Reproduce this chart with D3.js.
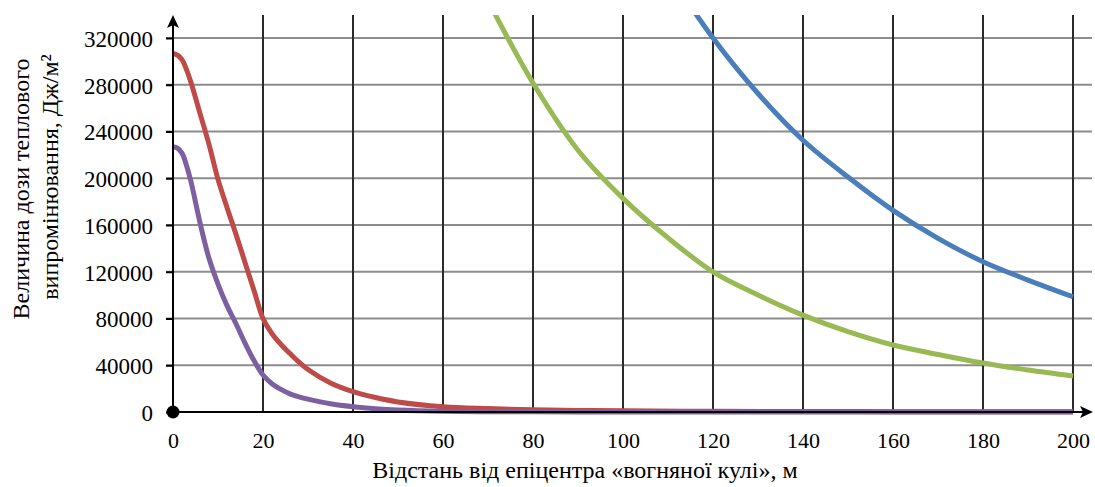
<!DOCTYPE html>
<html><head><meta charset="utf-8">
<script src="https://cdn.jsdelivr.net/npm/d3@7/dist/d3.min.js"></script>
<style>
html,body{margin:0;padding:0;background:#fff;}
svg{display:block;}
</style></head>
<body>
<script>
// ---- data ----
const xTicks = [0,20,40,60,80,100,120,140,160,180,200];
const yTicks = [0,40000,80000,120000,160000,200000,240000,280000,320000];

const xNear = [0,1,2,3,4,6,8,10,12,14,16,18,20,22,24,26,28,30,35,40,45,50,60,70,80,90,100,120,140,160,180,200];
const redValues = [306800,305300,301500,293000,282000,255500,229000,199000,175000,152000,128000,104000,80000,67000,57800,50000,42600,36300,24800,17400,12400,8600,4500,2900,1900,1300,1000,600,400,300,200,150];
const purpleValues = [227000,225800,221500,211000,197000,162000,131500,109500,91000,75500,59000,44000,31700,24200,19300,15500,13000,11000,7000,4500,2800,1700,600,250,120,60,40,20,10,5,0,0];

const xGreen = [70,80,90,100,110,120,130,140,150,160,170,180,190,200];
const greenValues = [352000,281500,224000,182800,149000,119900,100100,82900,68700,57300,49200,41900,35900,30800];

const xBlue = [110,120,130,140,150,160,170,180,190,200];
const blueValues = [376000,320000,272500,232500,201000,172500,148600,128600,112900,98600];

const yTitle1 = "Величина дози теплового";
const yTitle2 = "випромінювання, Дж/м²";
const xTitle = "Відстань від епіцентра «вогняної кулі», м";

// ---- layout ----
const W = 1095, H = 487;
const FONT = '"Liberation Serif","Times New Roman",serif';
const svg = d3.select("body").append("svg").attr("width", W).attr("height", H);
const x = d3.scaleLinear().domain([0,200]).range([173,1073]);
const y = d3.scaleLinear().domain([0,320000]).range([412,38]);
const plotTop = 15, plotRight = 1092;

// horizontal gridlines
svg.append("g").selectAll("line").data(yTicks.filter(d=>d>0)).join("line")
  .attr("x1",166).attr("x2",plotRight).attr("y1",d=>y(d)).attr("y2",d=>y(d))
  .attr("stroke","#8c8c8c").attr("stroke-width",2);
// vertical gridlines
svg.append("g").selectAll("line").data(xTicks.filter(d=>d>0)).join("line")
  .attr("x1",d=>x(d)).attr("x2",d=>x(d)).attr("y1",plotTop).attr("y2",y(0))
  .attr("stroke","#2b2b2b").attr("stroke-width",2);

// y axis labels
const yAxis = d3.axisLeft(y).tickValues(yTicks).tickSize(7).tickPadding(13).tickFormat(d3.format("d"));
const gy = svg.append("g").attr("transform",`translate(${x(0)},0)`).call(yAxis).attr("font-family",FONT).attr("font-size",23);
gy.select(".domain").remove();
gy.selectAll(".tick line").attr("stroke","#000").attr("stroke-width",2);
gy.selectAll(".tick text").attr("fill","#000").attr("dy","0.36em");

// x axis labels
const xAxis = d3.axisBottom(x).tickValues(xTicks).tickSize(0).tickPadding(20);
const gx = svg.append("g").attr("transform",`translate(0,${y(0)})`).call(xAxis).attr("font-family",FONT).attr("font-size",22);
gx.select(".domain").remove();
gx.selectAll(".tick text").attr("fill","#000");

// clip
svg.append("clipPath").attr("id","clip").append("rect")
  .attr("x",x(0)).attr("y",plotTop).attr("width",plotRight-x(0)).attr("height",y(0)-plotTop+5);

const line = d3.line().x(d=>x(d[0])).y(d=>y(d[1])).curve(d3.curveCatmullRom.alpha(0.5));
const series = [
  {xs:xBlue, vs:blueValues, color:"#4a7ebb"},
  {xs:xNear, vs:redValues, color:"#be4b48"},
  {xs:xGreen, vs:greenValues, color:"#98b954"},
  {xs:xNear, vs:purpleValues, color:"#7d60a0"}
];
const gl = svg.append("g").attr("clip-path","url(#clip)");
series.forEach(s=>{
  gl.append("path").datum(s.xs.map((d,i)=>[d,s.vs[i]]))
    .attr("d",line).attr("fill","none").attr("stroke",s.color)
    .attr("stroke-width",5).attr("stroke-linejoin","round").attr("stroke-linecap","butt");
});

// axes lines
svg.append("line").attr("x1",x(0)).attr("x2",x(0)).attr("y1",plotTop+6).attr("y2",y(0))
  .attr("stroke","#000").attr("stroke-width",2);
svg.append("line").attr("x1",x(0)).attr("x2",plotRight-6).attr("y1",y(0)).attr("y2",y(0))
  .attr("stroke","#000").attr("stroke-width",2);
// arrows
const ax0 = x(0), ay0 = y(0);
svg.append("path").attr("d",`M${ax0},${plotTop} L${ax0+6},${plotTop+13} L${ax0},${plotTop+10} L${ax0-6},${plotTop+13} Z`).attr("fill","#000");
svg.append("path").attr("d",`M${plotRight+1},${ay0} L${plotRight-12},${ay0-6} L${plotRight-9},${ay0} L${plotRight-12},${ay0+6} Z`).attr("fill","#000");
// origin dot
svg.append("circle").attr("cx",ax0).attr("cy",ay0).attr("r",6.5).attr("fill","#000");

// titles
svg.append("text").attr("transform","translate(29,189) rotate(-90)").attr("text-anchor","middle")
  .attr("font-size",24).attr("font-family",FONT).text(yTitle1);
svg.append("text").attr("transform","translate(58,177) rotate(-90)").attr("text-anchor","middle")
  .attr("font-size",24).attr("font-family",FONT).text(yTitle2);
svg.append("text").attr("x",585).attr("y",478).attr("text-anchor","middle")
  .attr("font-size",24).attr("font-family",FONT).text(xTitle);
</script>
</body></html>
